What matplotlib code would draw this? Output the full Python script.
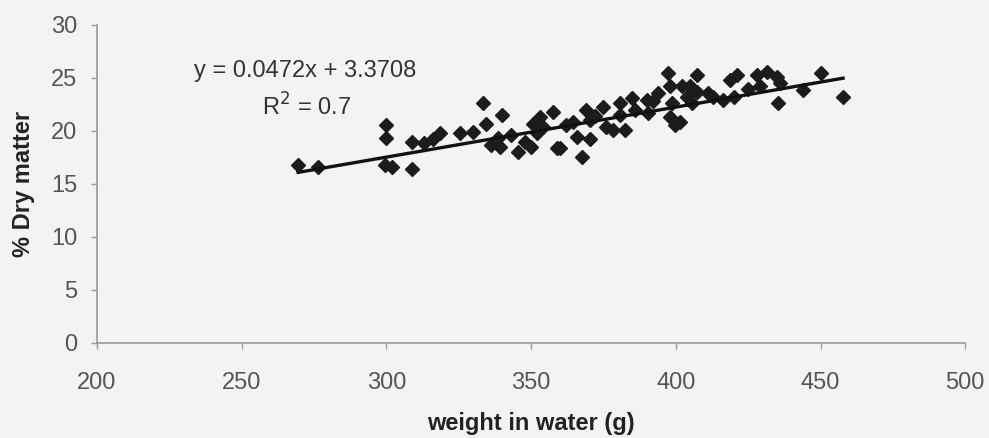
import numpy as np
import matplotlib
matplotlib.use("Agg")
import matplotlib.pyplot as plt

plt.rcParams['font.family'] = ['Liberation Sans', 'DejaVu Sans']

# weight in water (g) vs % dry matter
weight = [269.5, 276.4, 299.9, 300.0, 299.5, 302.0, 309.0, 309.0, 313.0, 318.6,
          316.0, 325.5, 330.0, 333.4, 334.5, 340.0, 336.0, 338.6, 339.3, 345.5,
          348.0, 350.7, 352.0, 350.0, 353.0, 357.6, 359.0, 354.0, 360.0, 364.5,
          366.0, 367.6, 369.0, 370.4, 370.4, 375.0, 376.0, 378.4, 380.8, 382.5,
          380.8, 385.0, 390.0, 390.5, 394.0, 397.4, 398.0, 398.7, 398.0, 399.8,
          402.0, 404.0, 405.7, 407.4, 407.4, 405.0, 401.5, 413.0, 418.8, 421.0,
          420.0, 416.4, 428.0, 431.6, 429.0, 435.0, 436.0, 435.4, 444.0, 450.0,
          457.8, 343.0, 362.0, 372.0, 386.0, 392.0, 411.0, 425.0]
dry_matter = [16.8, 16.6, 20.6, 19.3, 16.8, 16.6, 19.0, 16.4, 18.9, 19.8,
              19.2, 19.8, 19.9, 22.6, 20.7, 21.5, 18.7, 19.3, 18.5, 18.0,
              19.0, 20.7, 19.8, 18.5, 21.3, 21.8, 18.4, 20.4, 18.4, 20.8,
              19.4, 17.5, 22.0, 21.0, 19.2, 22.3, 20.4, 20.1, 22.6, 20.1,
              21.5, 23.1, 22.9, 21.7, 23.6, 25.5, 24.2, 22.6, 21.3, 20.6,
              24.2, 23.2, 22.6, 25.3, 23.7, 24.2, 20.8, 23.2, 24.8, 25.3,
              23.2, 22.9, 25.3, 25.6, 24.2, 25.1, 24.5, 22.6, 23.9, 25.5,
              23.2, 19.6, 20.6, 21.4, 22.0, 22.8, 23.6, 24.0]

slope = 0.0472
intercept = 3.3708
r2 = 0.7

x_ticks = [200, 250, 300, 350, 400, 450, 500]
y_ticks = [0, 5, 10, 15, 20, 25, 30]

bg = '#f3f3f3'
fig = plt.figure(figsize=(9.89, 4.38), dpi=100, facecolor=bg)
ax = fig.add_axes([0.098, 0.217, 0.878, 0.726], facecolor=bg)

ax.plot(weight, dry_matter, linestyle='none', marker='D', markersize=7.5,
        color='#1c1c1c')

xl = np.array([min(weight), max(weight)])
ax.plot(xl, slope * xl + intercept, color='#111111', lw=2.4)

ax.text(271.9, 25.66, 'y = %.4fx + %.4f' % (slope, intercept), ha='center',
        va='center', fontsize=17, color='#333333')
ax.text(272.5, 22.26, 'R$^2$ = %g' % r2, ha='center', va='center',
        fontsize=17, color='#333333')

ax.set_xlim(200, 500)
ax.set_ylim(0, 30)
ax.set_xticks(x_ticks)
ax.set_yticks(y_ticks)
ax.tick_params(colors='#999999', labelcolor='#555555', labelsize=17,
               length=4, width=1)
ax.tick_params(axis='x', pad=17)
ax.tick_params(axis='y', pad=10)

for s in ['top', 'right']:
    ax.spines[s].set_visible(False)
for s in ['left', 'bottom']:
    ax.spines[s].set_color('#999999')
    ax.spines[s].set_linewidth(1.2)

ax.set_xlabel('weight in water (g)', fontsize=17, fontweight='bold',
              color='#222222', labelpad=13)
ax.set_ylabel('% Dry matter', fontsize=17, fontweight='bold',
              color='#222222', labelpad=12)

fig.savefig('out.png', dpi=100, facecolor=bg)
